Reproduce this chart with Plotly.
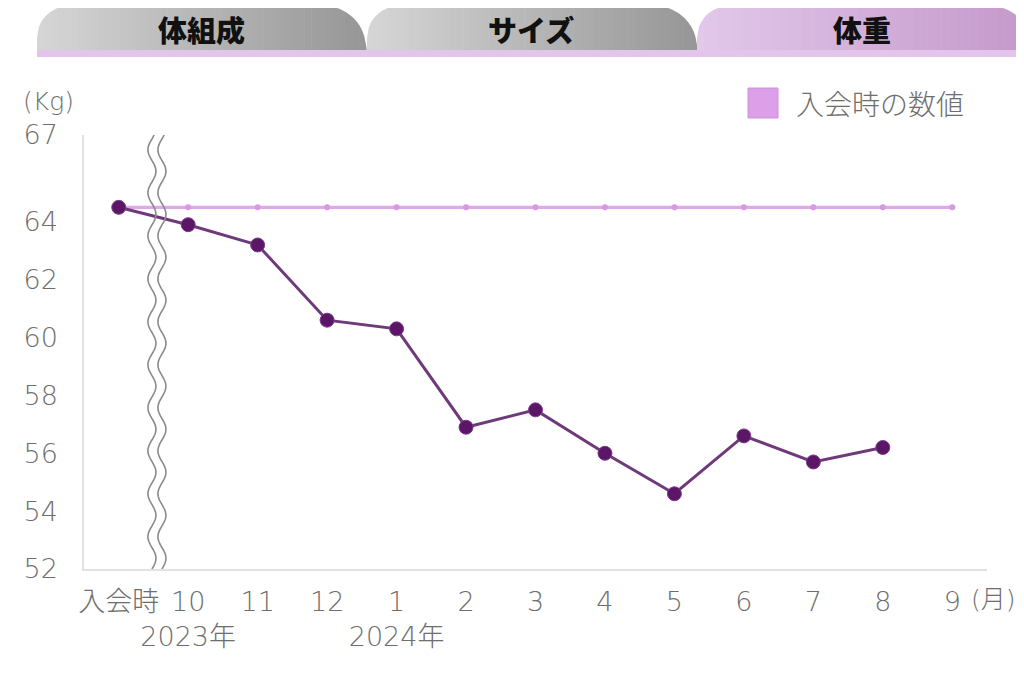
import plotly.graph_objects as go
import math

# ---- data ----
months = ["入会時", "10", "11", "12", "1", "2", "3", "4", "5", "6", "7", "8", "9"]
year_labels = {1: "2023年", 4: "2024年"}
weights = [64.5, 63.9, 63.2, 60.6, 60.3, 56.9, 57.5, 56.0, 54.6, 56.6, 55.7, 56.2, None]
baseline_value = 64.5
y_ticks = [52, 54, 56, 58, 60, 62, 64, 67]
tabs = ["体組成", "サイズ", "体重"]

W, H = 1024, 687
OFF = 8  # page offset of the figure (body margin)
# plot area in page pixels
PL, PR, PT, PB = 84, 987, 135, 569
PW, PH = PR - PL, PB - PT
ML = PL - OFF
MT = PT - OFF
MR = W - ML - PW
MB = H - MT - PH

FONT = "Noto Sans CJK JP"
NUMFONT = "DejaVu Sans, Noto Sans CJK JP"
GRAY = "#6e6e6e"

def px2paper(px, py):
    return (px - PL) / PW, (PB - py) / PH

x_idx = list(range(len(months)))
ticktext = []
for i, m in enumerate(months):
    if i in year_labels:
        ticktext.append(f"{m}<br>{year_labels[i]}")
    else:
        ticktext.append(m)

fig = go.Figure()

# baseline (入会時の数値)
fig.add_trace(go.Scatter(
    x=x_idx, y=[baseline_value] * len(months),
    mode="lines+markers",
    line=dict(color="#dfa8ea", width=3.2),
    marker=dict(color="#d59ae2", size=6),
    hoverinfo="skip", showlegend=False,
))

# weight line
fig.add_trace(go.Scatter(
    x=x_idx, y=weights,
    mode="lines+markers",
    line=dict(color="#6e3a7a", width=3),
    marker=dict(color="#5c1668", size=14, line=dict(color="#7a3f86", width=1)),
    showlegend=False,
))

shapes = []

# ---- tabs with gradient ----
def tab_shapes(x0, x1, c_left, c_right, yt=6, yb=50, rl=32, rr=42, n=48):
    def ytop(x):
        if x < x0 + rl:
            dx = (x0 + rl - x) / rl
            dx = min(dx, 1.0)
            return yt + rl - rl * math.sqrt(max(0.0, 1 - dx * dx))
        if x > x1 - rr:
            dx = (x - (x1 - rr)) / rr
            dx = min(dx, 1.0)
            return yt + rr - rr * math.sqrt(max(0.0, 1 - dx * dx))
        return yt
    out = []
    for k in range(n):
        xa = x0 + (x1 - x0) * k / n
        xb = x0 + (x1 - x0) * (k + 1) / n
        t = (k + 0.5) / n
        col = tuple(int(round(c_left[j] + (c_right[j] - c_left[j]) * t)) for j in range(3))
        pts = [(xa, yb), (xa, ytop(xa))]
        for s in range(1, 4):
            xs = xa + (xb - xa) * s / 4
            pts.append((xs, ytop(xs)))
        pts.append((xb + 0.6, ytop(min(xb + 0.6, x1))))
        pts.append((xb + 0.6, yb))
        path = "M " + " L ".join(
            f"{px2paper(px, py)[0]:.5f},{px2paper(px, py)[1]:.5f}" for px, py in pts) + " Z"
        out.append(dict(type="path", xref="paper", yref="paper", path=path,
                        fillcolor=f"rgb{col}", line=dict(width=0), layer="above"))
    return out

shapes += tab_shapes(37, 366, (214, 214, 214), (150, 150, 150))
shapes += tab_shapes(367, 697, (214, 214, 214), (150, 150, 150))
shapes += tab_shapes(697, 1032, (226, 200, 234), (196, 152, 202))

# pink band under tabs
bx0, by0 = px2paper(37, 57)
bx1, by1 = px2paper(1030, 50)
shapes.append(dict(type="rect", xref="paper", yref="paper", x0=bx0, y0=by0, x1=bx1, y1=by1,
                   fillcolor="#e3c4ea", line=dict(width=0)))

# legend square
lx0, ly0 = px2paper(748, 118)
lx1, ly1 = px2paper(778, 88)
shapes.append(dict(type="rect", xref="paper", yref="paper", x0=lx0, y0=ly0, x1=lx1, y1=ly1,
                   fillcolor="#dca0e8", line=dict(color="#d090dc", width=1)))

# wavy break marks (two gray wavy lines)
y_lo, y_hi = y_ticks[0], y_ticks[-1]
px_per_x = PW / len(months)
px_per_y = PH / (y_hi - y_lo)
center = 0.55
amp = 4.0 / px_per_x
period = 43.0 / px_per_y
for off in (-5.0 / px_per_x, 5.0 / px_per_x):
    pts = []
    steps = 300
    for s in range(steps + 1):
        yv = y_lo + (y_hi - y_lo) * s / steps
        xv = center + off + amp * math.sin(2 * math.pi * (yv - y_lo) / period)
        pts.append(f"{xv:.5f},{yv:.5f}")
    shapes.append(dict(type="path", xref="x", yref="y", path="M " + " L ".join(pts),
                       line=dict(color="#8a8a8a", width=1.6), layer="above"))

annotations = []
tab_centers = [201, 531, 862]
for name, cx in zip(tabs, tab_centers):
    ax, ay = px2paper(cx, 29)
    annotations.append(dict(text=name, x=ax, y=ay, xref="paper", yref="paper",
                            showarrow=False, xanchor="center", yanchor="middle",
                            font=dict(family=FONT, size=29, color="#111111", weight=900)))

ax, ay = px2paper(794, 103)
annotations.append(dict(text="入会時の数値", x=ax, y=ay, xref="paper", yref="paper",
                        showarrow=False, xanchor="left", yanchor="middle",
                        font=dict(family=FONT, size=28, color=GRAY, weight=300)))
ax, ay = px2paper(48, 101)
annotations.append(dict(text="(Kg)", x=ax, y=ay, xref="paper", yref="paper",
                        showarrow=False, xanchor="center", yanchor="middle",
                        font=dict(family=NUMFONT, size=25, color=GRAY, weight=300)))
ax, ay = px2paper(993, 599)
annotations.append(dict(text="(月)", x=ax, y=ay, xref="paper", yref="paper",
                        showarrow=False, xanchor="center", yanchor="middle",
                        font=dict(family=NUMFONT, size=25, color=GRAY, weight=300)))

fig.update_layout(
    width=W, height=H,
    margin=dict(l=ML, r=MR, t=MT, b=MB, autoexpand=False),
    paper_bgcolor="white", plot_bgcolor="white",
    shapes=shapes, annotations=annotations,
    showlegend=False,
    xaxis=dict(
        range=[-0.5, len(months) - 0.5],
        tickmode="array", tickvals=x_idx, ticktext=ticktext,
        tickangle=0, automargin=False,
        showgrid=False, zeroline=False, ticks="",
        showline=True, linecolor="#e2e2e2", linewidth=1.5,
        tickfont=dict(family=NUMFONT, size=27, color=GRAY, weight=300),
        ticklabelstandoff=8, fixedrange=True,
    ),
    yaxis=dict(
        range=[y_lo, y_hi],
        tickmode="array", tickvals=y_ticks, ticktext=[str(v) for v in y_ticks],
        automargin=False,
        showgrid=False, zeroline=False, ticks="",
        showline=True, linecolor="#e2e2e2", linewidth=1.5,
        tickfont=dict(family=NUMFONT, size=27, color=GRAY, weight=300),
        ticklabelstandoff=19, fixedrange=True,
    ),
)

fig.write_html("out.html")
